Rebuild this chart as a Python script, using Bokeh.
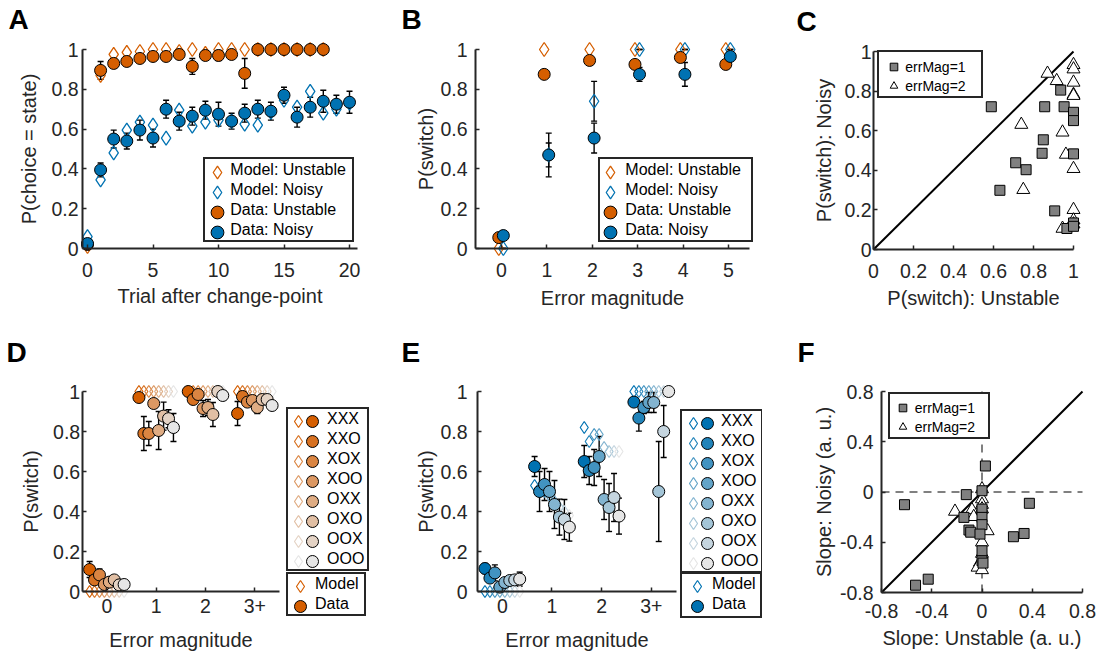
import numpy as np
from bokeh.plotting import figure
from bokeh.layouts import row, column
from bokeh.models import (ColumnDataSource, Whisker, TeeHead, Legend, LegendItem,
                          FixedTicker, Label, Range1d, NumeralTickFormatter)
from bokeh.transform import dodge
from bokeh.embed import file_html
from bokeh.resources import INLINE

# ---------------- data: panel A ----------------
a_trial = list(range(21))
a_model_unstable = [0.01, 0.87, 0.975, 0.985, 0.99, 1.0, 1.0, 0.99, 1.0, 0.98,
                    1.0, 1.0, 1.0, 1.0, 1.0, 1.0, 1.0, 1.0, 1.0]
a_data_unstable = [0.02, 0.895, 0.93, 0.94, 0.955, 0.965, 0.965, 0.975, 0.915, 0.97,
                   0.97, 0.975, 0.88, 1.0, 1.0, 1.0, 1.0, 1.0, 1.0]
a_err_unstable = [0.01, 0.045, 0.015, 0.02, 0.015, 0.015, 0.015, 0.01, 0.04, 0.02,
                  0.025, 0.015, 0.075, 0.0, 0.0, 0.0, 0.0, 0.0, 0.0]
a_model_noisy = [0.06, 0.345, 0.48, 0.595, 0.635, 0.62, 0.555, 0.695, 0.615, 0.635,
                 0.645, 0.64, 0.625, 0.62, 0.685, 0.745, 0.71, 0.79, 0.68, 0.70, 0.73]
a_data_noisy = [0.025, 0.395, 0.55, 0.54, 0.595, 0.555, 0.70, 0.64, 0.665, 0.695,
                0.675, 0.64, 0.68, 0.70, 0.69, 0.77, 0.66, 0.71, 0.74, 0.725, 0.735]
a_err_noisy = [0.01, 0.035, 0.045, 0.04, 0.05, 0.045, 0.045, 0.045, 0.045, 0.045,
               0.06, 0.04, 0.045, 0.045, 0.045, 0.04, 0.05, 0.05, 0.055, 0.045, 0.055]

# ---------------- data: panel B ----------------
b_err_mag = [0, 1, 2, 3, 4, 5]
b_model_unstable = [0.0, 1.0, 1.0, 1.0, 1.0, 1.0]
b_model_noisy = [0.0, 0.47, 0.74, 1.0, 1.0, 1.0]
b_err_model_noisy = [0.0, 0.06, 0.10, 0.0, 0.0, 0.0]
b_data_unstable = [0.055, 0.875, 0.945, 0.925, 0.96, 0.925]
b_err_unstable = [0.01, 0.02, 0.01, 0.015, 0.01, 0.015]
b_data_noisy = [0.065, 0.47, 0.555, 0.875, 0.875, 0.965]
b_err_noisy = [0.01, 0.11, 0.075, 0.035, 0.06, 0.02]

# ---------------- data: panel C ----------------
c_sq_x = [0.589, 0.632, 0.711, 0.763, 0.849, 0.843, 0.856, 0.936, 0.953, 1.0, 1.0,
          1.0, 0.906, 0.967, 1.0, 1.0]
c_sq_y = [0.721, 0.299, 0.438, 0.403, 0.554, 0.486, 0.721, 0.805, 0.721, 0.693, 0.651,
          0.483, 0.195, 0.106, 0.134, 0.117]
c_tr_x = [0.87, 0.916, 0.739, 0.749, 0.945, 0.962, 1.0, 1.0, 1.0, 1.0, 1.0, 1.0,
          1.0, 1.0, 1.0, 0.945]
c_tr_y = [0.889, 0.852, 0.631, 0.302, 0.592, 0.48, 0.408, 0.933, 0.911, 0.844, 0.782,
          0.777, 0.201, 0.148, 0.128, 0.106]

# ---------------- data: panels D / E ----------------
hist_labels = ["XXX", "XXO", "XOX", "XOO", "OXX", "OXO", "OOX", "OOO"]
mag_groups = [0, 1, 2, 3]
mag_tick_labels = ["0", "1", "2", "3+"]

d_model = [[0.0, 1.0, 1.0, 1.0], [0.0, 1.0, 1.0, 1.0], [0.0, 1.0, 1.0, 1.0],
           [0.0, 1.0, 1.0, 1.0], [0.0, 1.0, 1.0, 1.0], [0.0, 1.0, 1.0, 1.0],
           [0.0, 1.0, 1.0, 1.0], [0.0, 1.0, 1.0, 1.0]]
d_data = [[0.11, 0.97, 1.0, 0.89],
          [0.058, 0.79, 0.96, 0.975],
          [0.083, 0.79, 0.985, 0.947],
          [0.035, 0.94, 0.915, 0.955],
          [0.047, 0.805, 0.92, 0.92],
          [0.058, 0.877, 0.885, 0.96],
          [0.033, 0.864, 1.0, 0.96],
          [0.035, 0.82, 0.98, 0.93]]
d_err = [[0.04, 0.01, 0.0, 0.06],
         [0.02, 0.085, 0.01, 0.015],
         [0.03, 0.06, 0.01, 0.015],
         [0.01, 0.015, 0.04, 0.015],
         [0.01, 0.095, 0.04, 0.03],
         [0.01, 0.07, 0.06, 0.015],
         [0.01, 0.045, 0.0, 0.015],
         [0.01, 0.07, 0.0, 0.01]]

e_model = [[0.0, 0.53, 0.82, 1.0],
           [0.0, 0.52, 0.75, 1.0],
           [0.0, 0.50, 0.785, 1.0],
           [0.0, 0.48, 0.785, 1.0],
           [0.0, 0.45, 0.72, 1.0],
           [0.0, 0.42, 0.70, 1.0],
           [0.0, 0.40, 0.70, 1.0],
           [0.0, 0.38, 0.70, 1.0]]
e_data = [[0.115, 0.625, 0.65, 0.947],
          [0.067, 0.50, 0.605, 0.867],
          [0.093, 0.535, 0.62, 0.92],
          [0.022, 0.50, 0.675, 0.945],
          [0.045, 0.435, 0.46, 0.945],
          [0.055, 0.372, 0.42, 0.50],
          [0.058, 0.36, 0.47, 0.80],
          [0.062, 0.322, 0.377, 1.0]]
e_err = [[0.025, 0.05, 0.08, 0.02],
         [0.01, 0.10, 0.07, 0.065],
         [0.04, 0.08, 0.09, 0.03],
         [0.01, 0.10, 0.10, 0.05],
         [0.01, 0.12, 0.10, 0.05],
         [0.01, 0.09, 0.12, 0.25],
         [0.01, 0.10, 0.12, 0.13],
         [0.035, 0.07, 0.09, 0.0]]

# ---------------- data: panel F ----------------
f_sq_x = [-0.617, -0.529, -0.428, -0.125, -0.144, -0.104, -0.09, 0.0, 0.027, 0.0,
          0.0, 0.0, -0.016, 0.0, 0.0, 0.008, 0.25, 0.335, 0.377]
f_sq_y = [-0.101, -0.742, -0.694, -0.021, -0.202, -0.303, -0.32, 0.01, 0.207, -0.136,
          -0.202, -0.26, -0.335, -0.468, -0.548, -0.566, -0.356, -0.33, -0.09]
f_tr_x = [-0.215, -0.08, -0.066, 0.0, 0.0, 0.0, 0.0, 0.045, 0.0, 0.0, -0.016,
          -0.035, 0.0]
f_tr_y = [-0.155, -0.143, -0.197, 0.024, -0.056, -0.1, -0.136, -0.31, -0.40, -0.49,
          -0.56, -0.60, -0.62]

# ---------------- style ----------------
FONT = "Liberation Sans"
AXC = "#262626"
ORANGE = "#D55E00"
BLUE = "#0072B2"
LIGHT = "#E6E6E6"
SQ_GRAY = "#808080"
ROW_PITCH = 20
hist_offsets = [-0.35, -0.25, -0.15, -0.05, 0.05, 0.15, 0.25, 0.35]


def blend(c1, c2, t):
    a = [int(c1[i:i + 2], 16) for i in (1, 3, 5)]
    b = [int(c2[i:i + 2], 16) for i in (1, 3, 5)]
    m = [round(a[k] * (1 - t) + b[k] * t) for k in range(3)]
    return "#%02X%02X%02X" % tuple(m)


def lin(a, b, px):
    (av, ap), (bv, bp) = a, b
    return av + (px - ap) * (bv - av) / (bp - ap)


def make_fig(box, xa, xb, ya, yb):
    l, t, r, bt = box
    p = figure(width=r - l, height=bt - t,
               x_range=Range1d(lin(xa, xb, l), lin(xa, xb, r)),
               y_range=Range1d(lin(ya, yb, bt), lin(ya, yb, t)),
               output_backend="svg", toolbar_location=None, title=None,
               min_border=0, outline_line_color=None,
               background_fill_color="white", border_fill_color="white")
    p.xgrid.visible = False
    p.ygrid.visible = False
    return p


def style_axis(ax, fixed, bounds, ticks, label, std, als, fmt=None, overrides=None):
    ax.fixed_location = fixed
    ax.bounds = bounds
    ax.ticker = FixedTicker(ticks=ticks)
    if fmt is not None:
        ax.formatter = NumeralTickFormatter(format=fmt)
    if overrides is not None:
        ax.major_label_overrides = overrides
    ax.axis_label = label
    ax.axis_label_text_font = FONT
    ax.axis_label_text_font_size = "20px"
    ax.axis_label_text_font_style = "normal"
    ax.axis_label_text_color = AXC
    ax.axis_label_standoff = als
    ax.major_label_standoff = std
    ax.major_label_text_font = FONT
    ax.major_label_text_font_size = "19.5px"
    ax.major_label_text_color = AXC
    ax.axis_line_color = AXC
    ax.axis_line_width = 2
    ax.major_tick_line_color = AXC
    ax.major_tick_line_width = 1.5
    ax.major_tick_in = 4
    ax.major_tick_out = 0
    ax.minor_tick_line_color = None


def add_err(p, src, base):
    p.add_layout(Whisker(base=base, upper="upper", lower="lower", source=src,
                         line_color="black", line_width=1.4,
                         upper_head=TeeHead(size=6, line_color="black", line_width=1.4),
                         lower_head=TeeHead(size=6, line_color="black", line_width=1.4)))


def make_legend(items, vx, vy, gw, gh, pad, st, lw, fs, boxed=True):
    pl, pr, pt, pb = pad
    return Legend(items=items, location=(vx, vy), orientation="vertical",
                  glyph_width=gw, glyph_height=gh,
                  padding=dict(left=pl, right=pr, top=pt, bottom=pb), spacing=0,
                  label_standoff=st, label_width=lw, label_height=10, margin=0,
                  label_text_font=FONT, label_text_font_size=fs, label_text_color="black",
                  border_line_color=AXC if boxed else None, border_line_width=2,
                  border_line_alpha=1.0,
                  background_fill_color="white",
                  background_fill_alpha=1.0 if boxed else 0.0)


def overlay_markers(p, fig_left, fig_bottom, renderers, cx, cy0, G):
    """Full-size legend glyphs: rows split by parity so each glyph box can exceed row pitch."""
    for parity in (0, 1):
        rs = renderers[parity::2]
        if not rs:
            continue
        n = len(rs)
        top = cy0 + parity * ROW_PITCH - G / 2
        height = n * G + (n - 1) * (2 * ROW_PITCH - G)
        p.add_layout(Legend(items=[LegendItem(label=" ", renderers=[r]) for r in rs],
                            location=(cx - G / 2 - fig_left, fig_bottom - (top + height)),
                            orientation="vertical", glyph_width=G, glyph_height=G,
                            spacing=2 * ROW_PITCH - G, padding=0, margin=0,
                            label_standoff=0, label_width=0, label_height=1,
                            label_text_font=FONT, label_text_font_size="12px",
                            border_line_color=None, background_fill_alpha=0.0))


def letter(p, text, x, y):
    p.add_layout(Label(x=x, y=y, x_units="screen", y_units="screen", text=text,
                       text_font=FONT, text_font_size="28px", text_font_style="bold",
                       text_color="black", text_baseline="alphabetic", text_align="left"))


def err_src(x, y, e, **extra):
    y = np.asarray(y, float)
    e = np.asarray(e, float)
    d = dict(x=list(x), y=list(y), upper=list(y + e), lower=list(y - e))
    d.update(extra)
    return ColumnDataSource(d)


# ================= Panel A =================
pA = make_fig((0, 0, 372, 316), (0, 87), (20, 349), (0, 248), (1, 49))
nu = len(a_data_unstable)
src_mu = ColumnDataSource(dict(x=a_trial[:nu], y=a_model_unstable))
src_mn = ColumnDataSource(dict(x=a_trial, y=a_model_noisy))
src_du = err_src(a_trial[:nu], a_data_unstable, a_err_unstable)
src_dn = err_src(a_trial, a_data_noisy, a_err_noisy)
add_err(pA, src_du, "x")
add_err(pA, src_dn, "x")
rA_mu = pA.scatter("x", "y", source=src_mu, marker="diamond", size=14, fill_color=None,
                   line_color=ORANGE, line_width=1.3)
rA_mn = pA.scatter("x", "y", source=src_mn, marker="diamond", size=14, fill_color=None,
                   line_color=BLUE, line_width=1.3)
rA_du = pA.scatter("x", "y", source=src_du, marker="circle", size=12, fill_color=ORANGE,
                   line_color="black", line_width=1)
rA_dn = pA.scatter("x", "y", source=src_dn, marker="circle", size=12, fill_color=BLUE,
                   line_color="black", line_width=1)
xa_lo = lin((0, 87), (20, 349), 82)
style_axis(pA.xaxis[0], 0, (xa_lo, lin((0, 87), (20, 349), 357)), [0, 5, 10, 15, 20],
           "Trial after change-point", 14, 5)
style_axis(pA.yaxis[0], xa_lo, (0, 1), [0, 0.2, 0.4, 0.6, 0.8, 1], "P(choice = state)",
           4, 8, fmt="0.[0]")
rA_all = [rA_mu, rA_mn, rA_du, rA_dn]
pA.add_layout(make_legend([LegendItem(label=t, renderers=[r]) for t, r in
                           zip(["Model: Unstable", "Model: Noisy", "Data: Unstable",
                                "Data: Noisy"], rA_all)],
                          203.3, 74, 0, ROW_PITCH, (25, 6, 1, 0), 0, 116, "16px"))
overlay_markers(pA, 0, 316, rA_all, 216.7, 172, 32)
letter(pA, "A", 8, 297)

# ================= Panel B =================
pB = make_fig((372, 0, 762, 316), (0, 501), (5, 728), (0, 248), (1, 49))
OFF_U, OFF_N = -0.06, 0.04
src_bmu = ColumnDataSource(dict(x=b_err_mag, y=b_model_unstable))
src_bmn = err_src(b_err_mag, b_model_noisy, b_err_model_noisy)
src_bdu = err_src(b_err_mag, b_data_unstable, b_err_unstable)
src_bdn = err_src(b_err_mag, b_data_noisy, b_err_noisy)
add_err(pB, src_bmn, dodge("x", OFF_N, range=pB.x_range))
add_err(pB, src_bdu, dodge("x", OFF_U, range=pB.x_range))
add_err(pB, src_bdn, dodge("x", OFF_N, range=pB.x_range))
rB_mu = pB.scatter(dodge("x", OFF_U, range=pB.x_range), "y", source=src_bmu, marker="diamond",
                   size=14, fill_color=None, line_color=ORANGE, line_width=1.3)
rB_mn = pB.scatter(dodge("x", OFF_N, range=pB.x_range), "y", source=src_bmn, marker="diamond",
                   size=14, fill_color=None, line_color=BLUE, line_width=1.3)
rB_du = pB.scatter(dodge("x", OFF_U, range=pB.x_range), "y", source=src_bdu, marker="circle",
                   size=12, fill_color=ORANGE, line_color="black", line_width=1)
rB_dn = pB.scatter(dodge("x", OFF_N, range=pB.x_range), "y", source=src_bdn, marker="circle",
                   size=12, fill_color=BLUE, line_color="black", line_width=1)
xb_lo = lin((0, 501), (5, 728), 475)
style_axis(pB.xaxis[0], 0, (xb_lo, lin((0, 501), (5, 728), 749)), b_err_mag,
           "Error magnitude", 14, 7)
style_axis(pB.yaxis[0], xb_lo, (0, 1), [0, 0.2, 0.4, 0.6, 0.8, 1], "P(switch)", 8, 0,
           fmt="0.[0]")
rB_all = [rB_mu, rB_mn, rB_du, rB_dn]
pB.add_layout(make_legend([LegendItem(label=t, renderers=[r]) for t, r in
                           zip(["Model: Unstable", "Model: Noisy", "Data: Unstable",
                                "Data: Noisy"], rB_all)],
                          226.3, 74, 0, ROW_PITCH, (25, 10, 1, 0), 0, 116, "16px"))
overlay_markers(pB, 372, 316, rB_all, 609.8, 172, 32)
letter(pB, "B", 29, 297)

# ================= Panel C =================
C_LIM = [0.0, 1.0]
pC = make_fig((762, 0, 1097, 316), (0, 873), (1, 1073), (0, 249), (1, 51))
pC.line(C_LIM, C_LIM, line_color="black", line_width=2)
rC_tr = pC.scatter(c_tr_x, c_tr_y, marker="triangle", size=13, fill_color="white",
                   line_color="black", line_width=1)
rC_sq = pC.scatter(c_sq_x, c_sq_y, marker="square", size=10, fill_color=SQ_GRAY,
                   line_color="black", line_width=1)
style_axis(pC.xaxis[0], C_LIM[0], tuple(C_LIM), [0, 0.2, 0.4, 0.6, 0.8, 1],
           "P(switch): Unstable", 14, 6, fmt="0.[0]")
style_axis(pC.yaxis[0], C_LIM[0], tuple(C_LIM), [0, 0.2, 0.4, 0.6, 0.8, 1],
           "P(switch): Noisy", 2, 6, fmt="0.[0]")
pC.add_layout(make_legend([LegendItem(label="errMag=1", renderers=[rC_sq]),
                           LegendItem(label="errMag=2", renderers=[rC_tr])],
                          115.3, 217.7, 19, 19, (5, 15, 5, 1), 2, 61, "14px"))
letter(pC, "C", 34, 295)


# ================= Panels D / E =================
def hist_panel(box, xa, xb, base, model, data, err, ystd, yals, leg1, leg3):
    fig_left, fig_bottom = box[0], box[3]
    p = make_fig(box, xa, xb, (0, 591), (1, 391))
    colors = [blend(base, LIGHT, i / 7) for i in range(8)]
    srcs = []
    for i in range(8):
        srcs.append(err_src(mag_groups, data[i], err[i], model=model[i]))
    for i in range(8):
        add_err(p, srcs[i], dodge("x", hist_offsets[i], range=p.x_range))
    dia, cir = [], []
    for i in range(8):
        dia.append(p.scatter(dodge("x", hist_offsets[i], range=p.x_range), "model",
                             source=srcs[i], marker="diamond", size=12, fill_color=None,
                             line_color=colors[i], line_width=1.2))
    for i in range(8):
        cir.append(p.scatter(dodge("x", hist_offsets[i], range=p.x_range), "y",
                             source=srcs[i], marker="circle", size=12,
                             fill_color=colors[i], line_color="black", line_width=1))
    style_axis(p.xaxis[0], 0, (-0.5, 3.5), mag_groups, "Error magnitude", 7, 13,
               overrides={g: t for g, t in zip(mag_groups, mag_tick_labels)})
    style_axis(p.yaxis[0], -0.5, (0, 1), [0, 0.2, 0.4, 0.6, 0.8, 1], "P(switch)",
               ystd, yals, fmt="0.[0]")
    left1, top1, pl1, pr1, cx_dia, cx_cir = leg1
    p.add_layout(make_legend([LegendItem(label=hist_labels[i], renderers=[cir[i]])
                              for i in range(8)],
                             left1 - fig_left, fig_bottom - (top1 + 8 * ROW_PITCH),
                             0, ROW_PITCH, (pl1, pr1, 0, 0), 0, 40, "16px"))
    overlay_markers(p, fig_left, fig_bottom, dia, cx_dia, top1 + ROW_PITCH / 2, 30)
    overlay_markers(p, fig_left, fig_bottom, cir, cx_cir, top1 + ROW_PITCH / 2, 30)
    left3, top3, pl3, pr3, pb3, cx3 = leg3
    p.add_layout(make_legend([LegendItem(label="Model", renderers=[dia[0]]),
                              LegendItem(label="Data", renderers=[cir[0]])],
                             left3 - fig_left, fig_bottom - (top3 + 2 * ROW_PITCH + pb3),
                             0, ROW_PITCH, (pl3, pr3, 0, pb3), 0, 44, "16px"))
    overlay_markers(p, fig_left, fig_bottom, [dia[0], cir[0]], cx3, top3 + ROW_PITCH / 2, 30)
    return p


pD = hist_panel((0, 316, 372, 653), (-0.5, 81.7), (3.5, 279), ORANGE,
                d_model, d_data, d_err, 2, 8,
                (286, 411, 39, 0, 298.3, 311.7), (286, 576, 27, 5, 0, 299.5))
letter(pD, "D", 6, 301)
pE = hist_panel((372, 316, 762, 653), (-0.5, 477), (3.5, 675.6), BLUE,
                e_model, e_data, e_err, 10, 0,
                (680, 413.3, 39, 0, 693.3, 707.3), (680, 576, 30, 4, 2, 696.7))
letter(pE, "E", 29, 301)

# ================= Panel F =================
F_LIM = [-0.8, 0.8]
F_ZERO = [0.0, 0.0]
pF = make_fig((762, 316, 1097, 653), (-0.8, 881), (0.8, 1082), (-0.8, 592), (0.8, 391))
pF.line(F_LIM, F_ZERO, line_color="#808080", line_width=2, line_dash="8 6")
pF.line(F_ZERO, F_LIM, line_color="#808080", line_width=2, line_dash="8 6")
pF.line(F_LIM, F_LIM, line_color="black", line_width=2)
rF_tr = pF.scatter(f_tr_x, f_tr_y, marker="triangle", size=13, fill_color="white",
                   line_color="black", line_width=1)
rF_sq = pF.scatter(f_sq_x, f_sq_y, marker="square", size=10, fill_color=SQ_GRAY,
                   line_color="black", line_width=1)
f_ticks = [-0.8, -0.4, 0, 0.4, 0.8]
style_axis(pF.xaxis[0], F_LIM[0], tuple(F_LIM), f_ticks, "Slope: Unstable (a. u.)", 11, 6,
           fmt="0.[0]")
style_axis(pF.yaxis[0], F_LIM[0], tuple(F_LIM), f_ticks, "Slope: Noisy (a. u.)", 8, 2,
           fmt="0.[0]")
pF.add_layout(make_legend([LegendItem(label="errMag=1", renderers=[rF_sq]),
                           LegendItem(label="errMag=2", renderers=[rF_tr])],
                          125.7, 214, 19, 19, (3, 12, 4, 1), 3, 61, "14px"))
letter(pF, "F", 35, 301)

layout = column(row(pA, pB, pC), row(pD, pE, pF))
open("out.html", "w").write(file_html(layout, INLINE))
